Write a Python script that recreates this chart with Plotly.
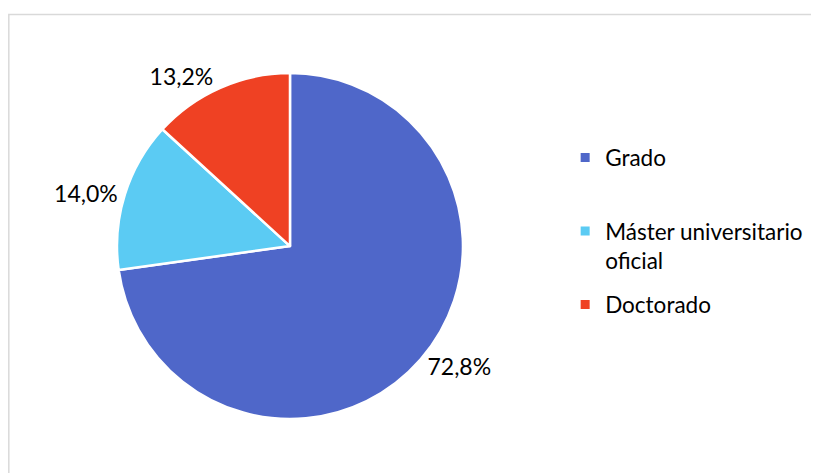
import plotly.graph_objects as go

# datos del gráfico
categorias = ['Grado', 'Máster universitario oficial', 'Doctorado']
etiquetas_leyenda = ['Grado<br> ', 'Máster universitario<br>oficial', 'Doctorado']
porcentajes = [72.8, 14.0, 13.2]
colores = ['#4F67C9', '#5BCBF3', '#EF4123']

# la página tiene 8px de margen en el body, así que la figura es algo más pequeña
W, H = 811, 465

fig = go.Figure()
fig.add_trace(go.Pie(
    labels=categorias,
    values=porcentajes,
    sort=False,
    direction='clockwise',
    rotation=0,
    showlegend=False,
    marker=dict(colors=colores, line=dict(color='white', width=2.5)),
    textposition='outside',
    texttemplate='%{percent:.1%}',
    hovertemplate='%{label}: %{percent:.1%}<extra></extra>',
    textfont=dict(color='black', size=23),
    domain=dict(x=[0.1344, 0.561], y=[0.116, 0.860]),
))

# leyenda con trazas vacías para controlar el espaciado
for i, (cat, lab, col) in enumerate(zip(categorias, etiquetas_leyenda, colores)):
    fig.add_trace(go.Scatter(
        x=[None], y=[None], mode='markers', name=lab,
        marker=dict(symbol='square', size=9, color=col),
        legendgroup=str(i), hoverinfo='skip',
    ))

fig.update_layout(
    width=W,
    height=H,
    margin=dict(l=0, r=0, t=0, b=0),
    paper_bgcolor='white',
    plot_bgcolor='white',
    separators=',.',
    font=dict(family='Lato', size=23, color='black'),
    xaxis=dict(visible=False),
    yaxis=dict(visible=False),
    legend=dict(x=0.687, y=0.724, xanchor='left', yanchor='top', valign='top',
                itemwidth=30, tracegroupgap=12, bgcolor='rgba(0,0,0,0)',
                font=dict(size=22.5)),
    shapes=[dict(type='rect', xref='paper', yref='paper',
                 x0=0.001, x1=1.01, y0=-0.02, y1=0.986,
                 line=dict(color='#D9D9D9', width=1.5))],
)

fig.write_html("out.html")
